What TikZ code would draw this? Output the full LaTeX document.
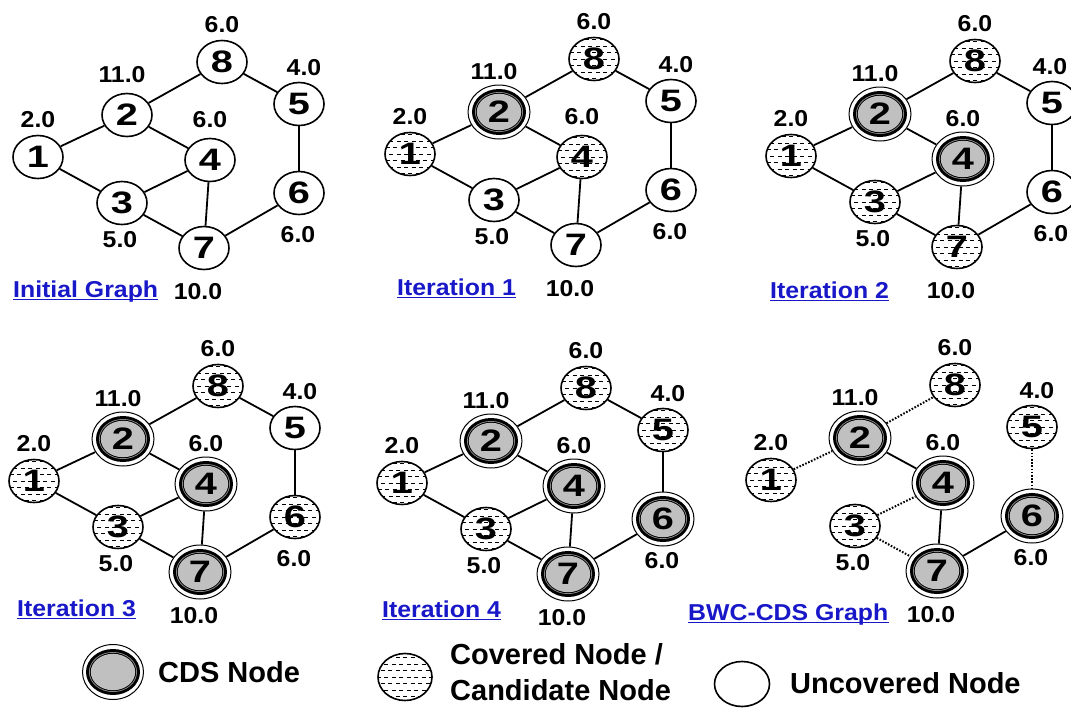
\documentclass[tikz,border=0pt]{standalone}
\usepackage{fontspec}
\setmainfont{Liberation Sans}
\newfontfamily\labfont[FakeStretch=1.08]{Liberation Sans}
\newfontfamily\numfont[FakeStretch=1.28]{Liberation Sans}
\usetikzlibrary{shapes.geometric}
\definecolor{cdsgray}{RGB}{192,192,192}
\definecolor{ringgray}{RGB}{150,150,150}
\definecolor{titleblue}{RGB}{24,24,200}
\tikzset{
 gnode/.style={ellipse, draw=black, line width=1.6pt, inner sep=0pt,
   minimum width=50pt, minimum height=43pt, fill=white,
   font=\numfont\bfseries\fontsize{31}{31}\selectfont},
 unc/.style={gnode},
 cov/.style={gnode, path picture={
   \foreach \k in {-3,-1,1,3}{\draw[line width=0.9pt,dash pattern=on 4pt off 3.5pt]
     (path picture bounding box.center) ++({-32pt},{\k*6.5pt}) -- ++(64pt,0pt);}
   \foreach \k in {-2,0,2}{\draw[line width=0.9pt,dash pattern=on 4pt off 3.5pt,dash phase=3.7pt]
     (path picture bounding box.center) ++({-32pt},{\k*6.5pt}) -- ++(64pt,0pt);}
 }},
 cds/.style={gnode, line width=1pt, minimum width=62pt, minimum height=54pt, path picture={
   \fill[black] (path picture bounding box.center) ellipse [x radius=27pt, y radius=23pt];
   \fill[ringgray] (path picture bounding box.center) ellipse [x radius=24pt, y radius=20pt];
   \fill[black] (path picture bounding box.center) ellipse [x radius=23.2pt, y radius=19.2pt];
   \fill[cdsgray] (path picture bounding box.center) ellipse [x radius=22.2pt, y radius=18.2pt];
 }},
 lab/.style={font=\labfont\bfseries\fontsize{23}{24}\selectfont, inner sep=0pt},
 ttl/.style={lab, text=titleblue, anchor=base west},
 uline/.style={draw=titleblue, line width=1.8pt},
 ed/.style={line width=1.8pt},
 dt/.style={line width=2pt, dash pattern=on 1.6pt off 1.6pt},
 leg/.style={font=\bfseries\fontsize{29}{36}\selectfont, inner sep=0pt},
}
\def\wfx{304}
\newcommand\gpanel[4]{%
\begin{scope}[shift={#1}]
 \coordinate (#2c1) at (38,157);
 \coordinate (#2c2) at (127,115);
 \coordinate (#2c3) at (122,203);
 \coordinate (#2c4) at (210,160);
 \coordinate (#2c5) at (299,104);
 \coordinate (#2c6) at (299,193);
 \coordinate (#2c7) at (204,248);
 \coordinate (#2c8) at (222,62);
 \foreach \n/\s in {#3}{\node[\s] (#2\n) at (#2c\n) {\n};}
 \foreach \a/\b/\s in {#4}{\draw[\s] (#2\a) -- (#2\b);}
 \node[lab] (#2w8) at (222,25) {6.0};
 \node[lab] (#2w2) at (122,75) {11.0};
 \node[lab] (#2w1) at (38,120) {2.0};
 \node[lab] (#2w4) at (210,120) {6.0};
 \node[lab] (#2w5) at (\wfx,68) {4.0};
 \node[lab] (#2w3) at (120,240) {5.0};
 \node[lab] (#2w6) at (298,235) {6.0};
 \node[lab] (#2w7) at (198,292) {10.0};
\end{scope}}
\begin{document}
\begin{tikzpicture}[x=1pt,y=-1pt]
\useasboundingbox (0,0) rectangle (1071,707);
\clip (0,0) rectangle (1071,707);
\gpanel{(0,0)}{A}{1/unc,2/unc,3/unc,4/unc,5/unc,6/unc,7/unc,8/unc}
 {1/2/ed,1/3/ed,2/8/ed,2/4/ed,3/4/ed,3/7/ed,4/7/ed,8/5/ed,5/6/ed,6/7/ed}
\gpanel{(372,-3)}{B}{1/cov,2/cds,3/unc,4/cov,5/unc,6/unc,7/unc,8/cov}
 {1/2/ed,1/3/ed,2/8/ed,2/4/ed,3/4/ed,3/7/ed,4/7/ed,8/5/ed,5/6/ed,6/7/ed}
\def\wfx{297}
\gpanel{(753,-1)}{C}{1/cov,2/cds,3/cov,4/cds,5/unc,6/unc,7/cov,8/cov}
 {1/2/ed,1/3/ed,2/8/ed,2/4/ed,3/4/ed,3/7/ed,4/7/ed,8/5/ed,5/6/ed,6/7/ed}
\def\wfx{304}
\gpanel{(-4,324)}{D}{1/cov,2/cds,3/cov,4/cds,5/unc,6/cov,7/cds,8/cov}
 {1/2/ed,1/3/ed,2/8/ed,2/4/ed,3/4/ed,3/7/ed,4/7/ed,8/5/ed,5/6/ed,6/7/ed}
\gpanel{(364,326)}{E}{1/cov,2/cds,3/cov,4/cds,5/cov,6/cds,7/cds,8/cov}
 {1/2/ed,1/3/ed,2/8/ed,2/4/ed,3/4/ed,3/7/ed,4/7/ed,8/5/ed,5/6/ed,6/7/ed}
\gpanel{(733,323)}{F}{1/cov,2/cds,3/cov,4/cds,5/cov,6/cds,7/cds,8/cov}
 {1/2/dt,2/8/dt,2/4/ed,3/4/dt,3/7/dt,4/7/ed,5/6/dt,6/7/ed}
% titles
\node[ttl] (tA) at (13,297) {Initial Graph};
\node[ttl] (tB) at (397,295) {Iteration 1};
\node[ttl] (tC) at (770,298) {Iteration 2};
\node[ttl] (tD) at (17,616) {Iteration 3};
\node[ttl] (tE) at (382,617) {Iteration 4};
\node[ttl] (tF) at (688,620) {BWC-CDS Graph};
\foreach \t in {tA,tB,tC,tD,tE,tF}{
  \draw[uline] ([yshift=-2.5pt]\t.base west) -- ([yshift=-2.5pt]\t.base east);}
% legend
\node[cds, minimum width=61pt, minimum height=55pt] (lg1) at (113,672) {};
\node[leg, anchor=base west] (lt1) at (158,682) {CDS Node};
\node[cov, minimum width=54pt, minimum height=47pt] (lg2) at (405,677) {};
\node[leg, anchor=west, align=left] (lt2) at (450,672) {Covered Node /\\Candidate Node};
\node[unc, minimum width=55pt, minimum height=45pt] (lg3) at (742,684) {};
\node[leg, anchor=base west] (lt3) at (790,693) {Uncovered Node};
\end{tikzpicture}
\end{document}
